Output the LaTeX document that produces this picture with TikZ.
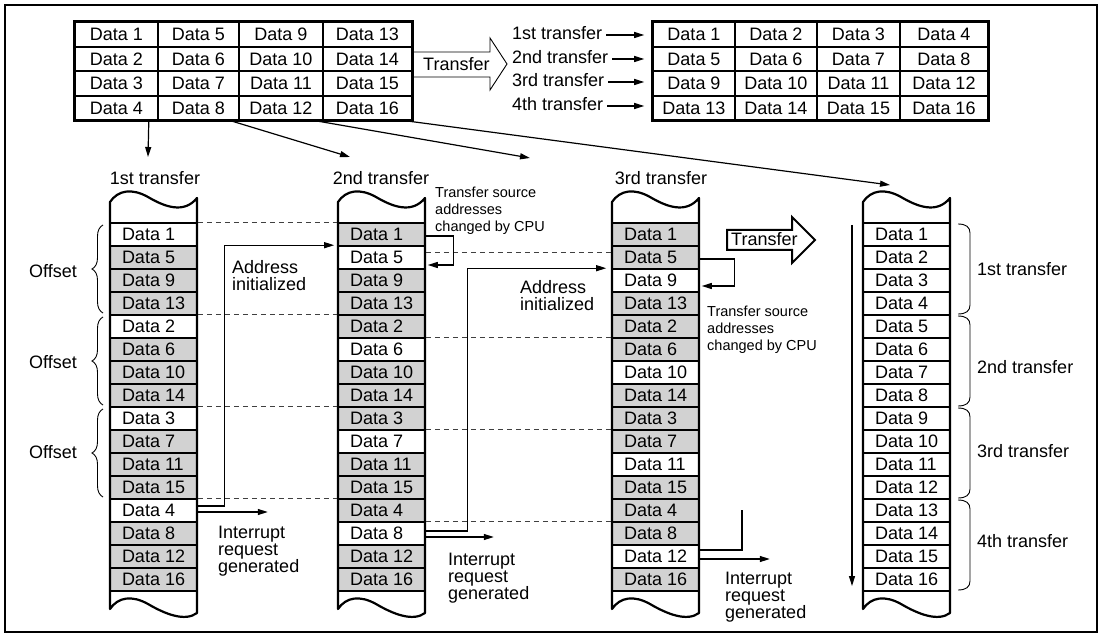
\documentclass[tikz,border=0pt]{standalone}
\usepackage{fontspec}
\setmainfont{Liberation Sans}
\usetikzlibrary{arrows.meta,decorations.pathreplacing,calc}
\begin{document}
\begin{tikzpicture}[x=1pt,y=-1pt,
  every node/.style={font=\fontsize{18pt}{17pt}\selectfont},
  cell/.style={draw, line width=1.6pt, minimum width=87pt, minimum height=23pt, inner sep=0pt},
  tcell/.style={draw, line width=1.6pt, inner sep=0pt},
  arr/.style={line width=1.2pt, -{Triangle[length=10pt,width=6pt]}},
  conn/.style={line width=1.2pt},
  dsh/.style={line width=1.1pt, dash pattern=on 5pt off 4pt, black!75},
  lbl/.style={anchor=base west, inner sep=0pt, align=left},
  small/.style={font=\fontsize{14.5pt}{17pt}\selectfont},
  brc/.style={line width=0.9pt},
  colout/.style={line width=2.2pt, line join=round},
]
\useasboundingbox (0,0) rectangle (1102,636);
\draw[line width=2.5pt] (5,5) rectangle (1097,632);

% ---- top-left table
\foreach \c/\xa/\xb in {1/75/158,2/158/239,3/239/323,4/323/412}{
  \foreach \r/\ya/\yb in {1/22/47,2/47/71,3/71/96,4/96/120}{
    \pgfmathtruncatemacro\n{(\c-1)*4+\r}
    \node[tcell, minimum width={(\xb-\xa)*1pt}, minimum height={(\yb-\ya)*1pt}] (tl-\r-\c) at ({(\xa+\xb)/2},{(\ya+\yb)/2}) {Data \n};
  }
}
\draw[line width=2.4pt] (tl-1-1.north west) rectangle (tl-4-4.south east);

% ---- top-right table
\foreach \c/\xa/\xb in {1/653/735,2/735/817,3/817/900,4/900/988}{
  \foreach \r/\ya/\yb in {1/22/47,2/47/71,3/71/96,4/96/120}{
    \pgfmathtruncatemacro\n{(\r-1)*4+\c}
    \node[tcell, minimum width={(\xb-\xa)*1pt}, minimum height={(\yb-\ya)*1pt}] (tr-\r-\c) at ({(\xa+\xb)/2},{(\ya+\yb)/2}) {Data \n};
  }
}
\draw[line width=2.4pt] (tr-1-1.north west) rectangle (tr-4-4.south east);

% ---- top transfer block arrow
\draw[line width=0.9pt] (413,52) -- (490,52) -- (490,38) -- (507,64) -- (490,90) -- (490,77) -- (413,77) -- cycle;
\node[anchor=base west, inner sep=0pt] (tb1) at (423,71) {Transfer};

% ---- transfer labels
\node[lbl] (t1) at (512,40) {1st transfer};
\node[lbl] (t2) at (512,64) {2nd transfer};
\node[lbl] (t3) at (512,87) {3rd transfer};
\node[lbl] (t4) at (512,111) {4th transfer};
\foreach \i in {1,2,3,4}{
  \draw[arr] ($(t\i.base east)+(4,-5)$) -- ($(t\i.base east -| tr-1-1.west)+(-8,-5)$);
}

% ---- arrows from top table down
\coordinate (e1) at (148,157);
\coordinate (e2) at (350,157);
\coordinate (e3) at (530,158);
\coordinate (e4) at (890,185);
\draw[arr] ([xshift=-10pt]tl-4-1.south east) -- (e1);
\draw[arr] ([xshift=-9pt]tl-4-2.south east) -- (e2);
\draw[arr] ([xshift=-8pt]tl-4-3.south east) -- (e3);
\draw[arr] ([xshift=-7pt]tl-4-4.south east) -- (e4);

% ---- column labels
\node[anchor=base, inner sep=0pt] (h1) at (155,185) {1st transfer};
\node[anchor=base, inner sep=0pt] (h2) at (381,185) {2nd transfer};
\node[anchor=base, inner sep=0pt] (h3) at (661,185) {3rd transfer};

% ---- columns 1-3
\foreach \col/\L in {1/110,2/338,3/612}{
  \foreach \d [count=\k] in {1,5,9,13,2,6,10,14,3,7,11,15,4,8,12,16}{
    \pgfmathtruncatemacro\g{int((\d-1)/4)+1}
    \ifnum\g=\col\relax \def\fc{white}\else\def\fc{gray!35}\fi
    \node[cell, fill=\fc] (c\col-\k) at ({\L+43.5},{211.5+23*\k}) {\makebox[63pt][l]{Data \d}};
  }
}
% ---- column 4
\foreach \d in {1,...,16}{
  \node[cell, fill=white] (c4-\d) at (906.5,{211.5+23*\d}) {\makebox[63pt][l]{Data \d}};
}
% ---- column outlines (torn paper)
\foreach \L in {110,338,612,863}{
  \draw[colout] (\L,202) .. controls ({\L+8},190) and ({\L+22},188) .. ({\L+38},197)
     .. controls ({\L+55},207) and ({\L+74},214) .. ({\L+87},198)
     -- ({\L+87},613)
     .. controls ({\L+75},622) and ({\L+55},614) .. ({\L+38},604)
     .. controls ({\L+22},595) and ({\L+8},597) .. (\L,609) -- cycle;
}

% ---- dashed guide lines
\foreach \k in {1,5,9,13}{
  \draw[dsh] (c1-\k.north east) -- (c2-\k.north west);
}
\draw[dsh] ([yshift=-7pt]c2-2.north east) -- ([yshift=-7pt]c3-2.north west);
\foreach \k in {6,10,14}{
  \draw[dsh] (c2-\k.north east) -- (c3-\k.north west);
}

% ---- offset braces (column 1)
\foreach \a/\b/\t [count=\i] in {223/315/277,315/407/368,407/499/458}{
  \draw[brc, decorate, decoration={brace, amplitude=11pt}] (103,{\b-2}) -- (103,{\a+2});
  \node[anchor=base east, inner sep=0pt] (off\i) at (77,\t) {Offset};
}

% ---- braces (column 4)
\foreach \a/\b in {223/315,315/407,407/499,499/591}{
  \draw[brc] (958,{\a+1}) .. controls (966,{\a+1}) and (970,{\a+4}) .. (970,{\a+10})
     -- (970,{\b-10}) .. controls (970,{\b-4}) and (966,{\b-1}) .. (958,{\b-1});
}
\node[lbl] (r1) at (977,275) {1st transfer};
\node[lbl] (r2) at (977,373) {2nd transfer};
\node[lbl] (r3) at (977,457) {3rd transfer};
\node[lbl] (r4) at (977,547) {4th transfer};

% ---- column 4 order arrow
\coordinate (v1) at (852,225);
\coordinate (v2) at (852,586);
\draw[arr] (v1) -- (v2);

% ---- column 1 connectors
\draw[arr] ([yshift=4.5pt]c1-13.east) -- ++(27,0) |- ([xshift=-3pt]c2-2.north west);
\draw[arr] ([yshift=-1.5pt]c1-13.east) -- ++(70,0);
\node[lbl] (ad1) at (232,290) {Address\\initialized};
\node[lbl] (ir1) at (218,572) {Interrupt\\request\\generated};

% ---- column 2 connectors
\draw[arr] ([yshift=-1.5pt]c2-1.east) -- ++(28,0) |- ([yshift=-7.5pt,xshift=2pt]c2-2.east);
\node[lbl, small] (cpu1) at (435,232) {Transfer source\\addresses\\changed by CPU};
\draw[arr] ([yshift=2.5pt]c2-14.east) -- ++(42,0) |- ([xshift=-5pt]c3-3.north west);
\draw[arr] ([yshift=-3.5pt]c2-14.east) -- ++(68,0);
\node[lbl] (ad2) at (520,310) {Address\\initialized};
\node[lbl] (ir2) at (448,599) {Interrupt\\request\\generated};

% ---- column 3 connectors
\draw[arr] ([yshift=-1.5pt]c3-2.east) -- ++(35,0) |- ([yshift=-5.5pt,xshift=2pt]c3-3.east);
\node[lbl, small] (cpu2) at (707,350) {Transfer source\\addresses\\changed by CPU};
\coordinate (stub) at (742,510);
\draw[conn] ([yshift=6.5pt]c3-15.east) -| (stub);
\draw[arr] ([yshift=-2.5pt]c3-15.east) -- ++(70,0);
\node[lbl] (ir3) at (725,618) {Interrupt\\request\\generated};

% ---- transfer block arrow (middle)
\draw[line width=2pt, line join=miter] (727,230) -- (792,230) -- (792,217) -- (815,240) -- (792,263) -- (792,250) -- (727,250) -- cycle;
\node[anchor=base west, inner sep=0pt] (tb2) at (731,246) {Transfer};
\end{tikzpicture}
\end{document}
